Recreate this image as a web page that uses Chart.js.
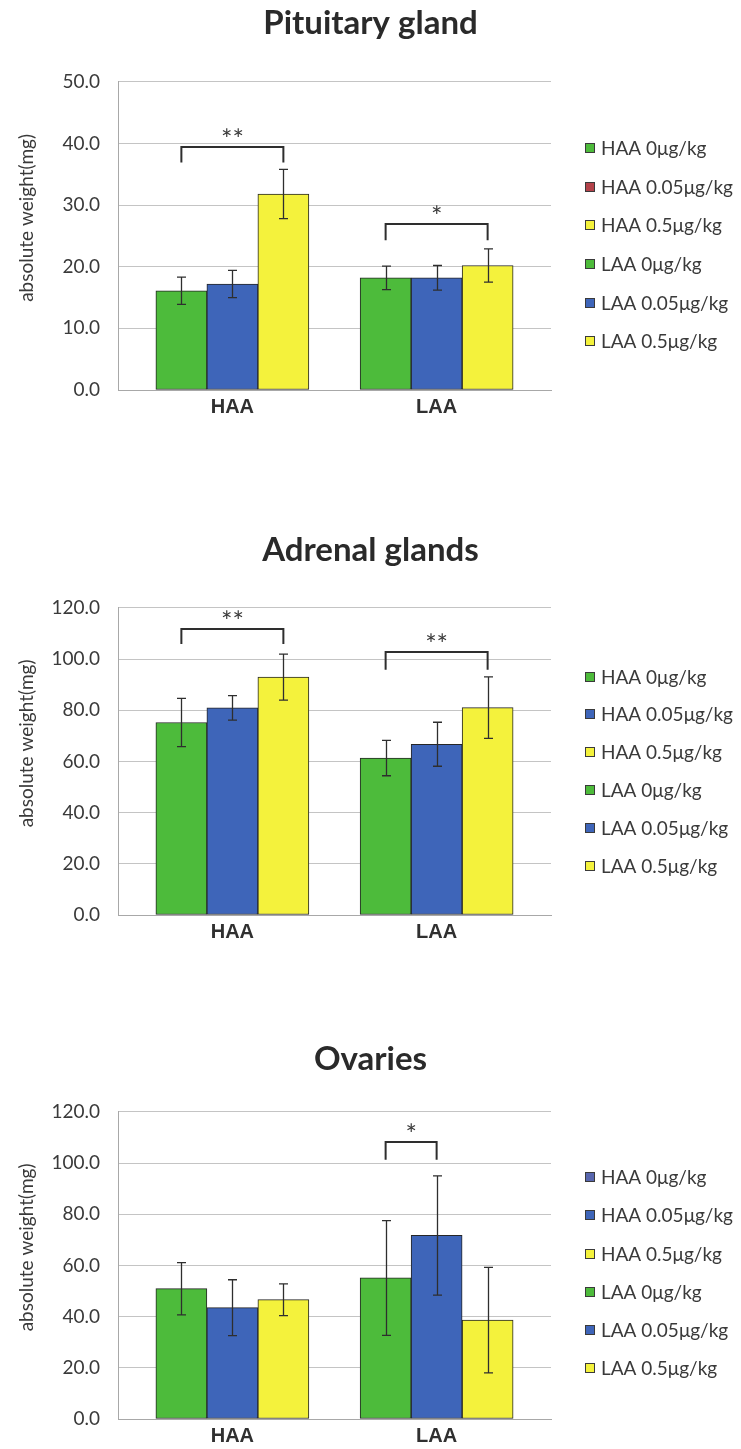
<!DOCTYPE html>
<html>
<head>
<meta charset="utf-8">
<script src="https://cdn.jsdelivr.net/npm/chart.js@4.4.1/dist/chart.umd.min.js"></script>
<style>
  html, body { margin: 0; padding: 0; background: #ffffff; }
  #wrap { position: relative; width: 741px; height: 1449px; overflow: hidden; background: #ffffff; }
  .panel { position: absolute; left: 0; width: 741px; }
  canvas { display: block; }
</style>
</head>
<body>
<div id="wrap">
  <div class="panel" style="top:0px;height:470px"><canvas id="pituitary" width="741" height="470"></canvas></div>
  <div class="panel" style="top:470px;height:490px"><canvas id="adrenal" width="741" height="490"></canvas></div>
  <div class="panel" style="top:960px;height:489px"><canvas id="ovary" width="741" height="489"></canvas></div>
</div>
<script>
// ---- categories and series ----
const groups = ['HAA', 'LAA'];
const doses = ['0μg/kg', '0.05μg/kg', '0.5μg/kg'];
const yTitle = 'absolute weight(mg)';

// Pituitary gland (mg): mean and SD per dose
const pituitaryHAA = [16.1, 17.2, 31.8];
const pituitaryHAAErr = [2.2, 2.2, 4.0];
const pituitaryLAA = [18.2, 18.2, 20.2];
const pituitaryLAAErr = [1.9, 2.0, 2.7];
const pituitaryTicks = [0, 10, 20, 30, 40, 50];

// Adrenal glands (mg)
const adrenalHAA = [75.2, 80.9, 92.9];
const adrenalHAAErr = [9.4, 4.8, 9.0];
const adrenalLAA = [61.3, 66.7, 81.0];
const adrenalLAAErr = [6.9, 8.6, 12.0];
const adrenalTicks = [0, 20, 40, 60, 80, 100, 120];

// Ovaries (mg)
const ovaryHAA = [50.9, 43.5, 46.6];
const ovaryHAAErr = [10.2, 10.9, 6.2];
const ovaryLAA = [55.1, 71.7, 38.6];
const ovaryLAAErr = [22.4, 23.3, 20.6];
const ovaryTicks = [0, 20, 40, 60, 80, 100, 120];

// significance brackets: group, first dose, second dose, bracket level, leg end, mark
const pituitarySig = [
  { group: 0, from: 0, to: 2, level: 39.5, foot: 36.9, mark: '**' },
  { group: 1, from: 0, to: 2, level: 27.0, foot: 24.3, mark: '*' }
];
const adrenalSig = [
  { group: 0, from: 0, to: 2, level: 111.9, foot: 105.9, mark: '**' },
  { group: 1, from: 0, to: 2, level: 102.7, foot: 95.8, mark: '**' }
];
const ovarySig = [
  { group: 1, from: 0, to: 1, level: 108.3, foot: 101.3, mark: '*' }
];

// ---- colours ----
const barColors = ['#4dbb3b', '#3e65b9', '#f4f23c'];
const pituitaryKeyColors = ['#4dbb3b', '#b3424a', '#f4f23c', '#4dbb3b', '#3e65b9', '#f4f23c'];
const adrenalKeyColors = ['#4dbb3b', '#3e65b9', '#f4f23c', '#4dbb3b', '#3e65b9', '#f4f23c'];
const ovaryKeyColors = ['#5866ae', '#3e65b9', '#f4f23c', '#4dbb3b', '#3e65b9', '#f4f23c'];

const INK = '#2e2e2e';
const TEXT = '#3a3a3a';

function buildDatasets(haa, haaErr, laa, laaErr, keyColors) {
  const sets = [];
  [[haa, haaErr], [laa, laaErr]].forEach(([vals, errs], g) => {
    vals.forEach((v, d) => {
      sets.push({
        label: groups[g] + ' ' + doses[d],
        data: [{ x: g, y: v }],
        errors: [errs[d]],
        keyColor: keyColors[g * 3 + d],
        backgroundColor: barColors[d],
        borderColor: '#262626',
        borderWidth: 1,
        borderSkipped: false,
        stack: 'dose' + d,
        barThickness: 51
      });
    });
  });
  return sets;
}

// whiskers drawn from each bar's mean +/- SD
const errorBarPlugin = {
  id: 'errorBars',
  afterDatasetsDraw(chart) {
    const { ctx } = chart;
    const ys = chart.scales.y;
    ctx.save();
    ctx.strokeStyle = INK;
    ctx.lineWidth = 1.3;
    chart.data.datasets.forEach((ds, i) => {
      chart.getDatasetMeta(i).data.forEach((bar, j) => {
        const v = ds.data[j].y, e = ds.errors[j];
        const top = ys.getPixelForValue(v + e);
        const bot = ys.getPixelForValue(v - e);
        const x = Math.round(bar.x) + 0.5;
        ctx.beginPath();
        ctx.moveTo(x, top); ctx.lineTo(x, bot);
        ctx.moveTo(x - 4.5, top); ctx.lineTo(x + 4.5, top);
        ctx.moveTo(x - 4.5, bot); ctx.lineTo(x + 4.5, bot);
        ctx.stroke();
      });
    });
    ctx.restore();
  }
};

// brackets with asterisks between two bars of the same group
function sigPlugin(marks) {
  return {
    id: 'sigBrackets',
    afterDatasetsDraw(chart) {
      const { ctx } = chart;
      const ys = chart.scales.y;
      ctx.save();
      ctx.strokeStyle = INK;
      ctx.lineWidth = 2;
      ctx.fillStyle = TEXT;
      ctx.font = '27px Lato';
      ctx.textAlign = 'center';
      ctx.textBaseline = 'alphabetic';
      marks.forEach(m => {
        const a = chart.getDatasetMeta(m.group * 3 + m.from).data[0];
        const b = chart.getDatasetMeta(m.group * 3 + m.to).data[0];
        const yl = Math.round(ys.getPixelForValue(m.level));
        const yf = ys.getPixelForValue(m.foot);
        ctx.beginPath();
        ctx.moveTo(a.x, yf);
        ctx.lineTo(a.x, yl);
        ctx.lineTo(b.x, yl);
        ctx.lineTo(b.x, yf);
        ctx.stroke();
        ctx.fillText(m.mark, (a.x + b.x) / 2, yl + 2);
      });
      ctx.restore();
    }
  };
}

// vertical axis caption, set a little above the middle of the plot
const axisCaptionPlugin = {
  id: 'axisCaption',
  afterDraw(chart) {
    const { ctx, chartArea } = chart;
    ctx.save();
    ctx.translate(27, (chartArea.top + chartArea.bottom) / 2 - 18);
    ctx.rotate(-Math.PI / 2);
    ctx.font = '19px Lato';
    ctx.fillStyle = TEXT;
    ctx.textAlign = 'center';
    ctx.textBaseline = 'middle';
    ctx.fillText(yTitle, 0, 0);
    ctx.restore();
  }
};

// key at the right of the plot, one entry per dataset
function keyPlugin(firstOffset, spacing) {
  return {
    id: 'sideKey',
    afterDraw(chart) {
      const { ctx, chartArea } = chart;
      ctx.save();
      ctx.font = '19px Lato';
      ctx.textBaseline = 'middle';
      ctx.textAlign = 'left';
      chart.data.datasets.forEach((ds, i) => {
        const cy = Math.round(chartArea.top + firstOffset + i * spacing);
        const bx = Math.round(chartArea.right + 34);
        ctx.fillStyle = ds.keyColor;
        ctx.fillRect(bx, cy - 5, 10, 10);
        ctx.strokeStyle = '#3a3a3a';
        ctx.lineWidth = 1;
        ctx.strokeRect(bx + 0.5, cy - 4.5, 9, 9);
        ctx.fillStyle = TEXT;
        ctx.fillText(ds.label, bx + 16, cy + 1);
      });
      ctx.restore();
    }
  };
}

function makeChart(id, title, titlePad, datasets, ticks, sig, xAxisHeight, key) {
  const yMax = ticks[ticks.length - 1];
  return new Chart(document.getElementById(id), {
    type: 'bar',
    data: { datasets },
    options: {
      responsive: false,
      animation: false,
      events: [],
      layout: { padding: 0 },
      plugins: {
        legend: { display: false },
        tooltip: { enabled: false },
        title: {
          display: true,
          text: title,
          color: '#2a2a2a',
          font: { family: 'Lato', weight: 'bold', size: 33, lineHeight: 1.2 },
          padding: titlePad
        }
      },
      scales: {
        x: {
          type: 'linear',
          offset: false,
          min: -0.56,
          max: 1.56,
          afterBuildTicks: s => { s.ticks = groups.map((g, i) => ({ value: i })); },
          afterFit: s => { s.height = xAxisHeight; },
          ticks: {
            callback: v => groups[v],
            color: '#303030',
            font: { family: 'Liberation Sans', weight: 'bold', size: 20 },
            padding: 5,
            autoSkip: false,
            maxRotation: 0
          },
          grid: { display: false, drawTicks: false },
          border: { display: true, color: '#a8a8a8', width: 1 }
        },
        y: {
          stacked: false,
          min: 0,
          max: yMax,
          afterBuildTicks: s => { s.ticks = ticks.map(v => ({ value: v })); },
          afterFit: s => { s.width = 118; },
          ticks: {
            callback: v => v.toFixed(1),
            color: TEXT,
            font: { family: 'Lato', size: 19 },
            padding: 18
          },
          grid: { color: '#c4c4c4', lineWidth: 1, drawTicks: false },
          border: { display: true, color: '#a8a8a8', width: 1 },
          title: { display: false }
        },
        // empty strip at the right that holds the key
        keyStrip: {
          type: 'linear',
          position: 'right',
          display: true,
          afterFit: s => { s.width = 190; },
          ticks: { display: false },
          grid: { display: false, drawTicks: false },
          border: { display: false }
        }
      }
    },
    plugins: [errorBarPlugin, sigPlugin(sig), axisCaptionPlugin, keyPlugin(key[0], key[1])]
  });
}

makeChart('pituitary', 'Pituitary gland', { top: 4, bottom: 38.2 },
  buildDatasets(pituitaryHAA, pituitaryHAAErr, pituitaryLAA, pituitaryLAAErr, pituitaryKeyColors),
  pituitaryTicks, pituitarySig, 80, [66, 38.7]);

makeChart('adrenal', 'Adrenal glands', { top: 61, bottom: 37.2 },
  buildDatasets(adrenalHAA, adrenalHAAErr, adrenalLAA, adrenalLAAErr, adrenalKeyColors),
  adrenalTicks, adrenalSig, 45, [68.7, 37.9]);

makeChart('ovary', 'Ovaries', { top: 80, bottom: 32.2 },
  buildDatasets(ovaryHAA, ovaryHAAErr, ovaryLAA, ovaryLAAErr, ovaryKeyColors),
  ovaryTicks, ovarySig, 30, [65.3, 38.2]);
</script>
</body>
</html>
